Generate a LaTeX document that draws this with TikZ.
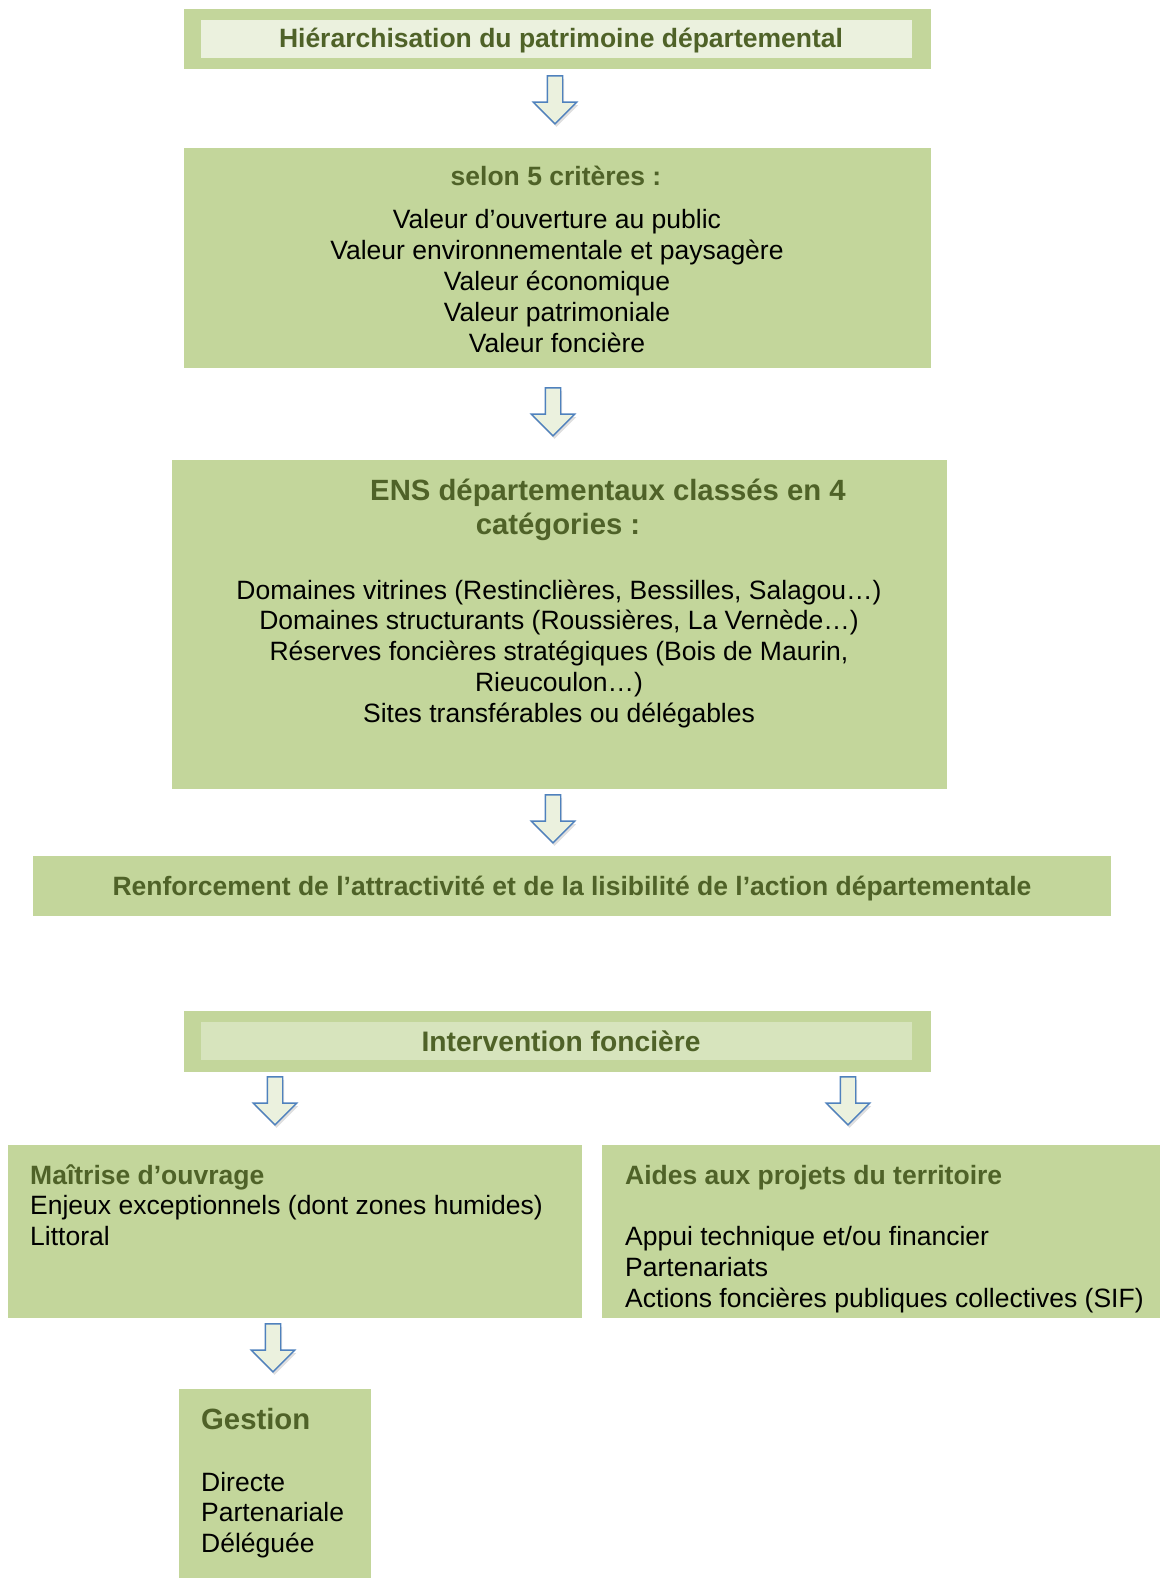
\documentclass[tikz,border=0pt]{standalone}
\usepackage{fontspec}
\setmainfont{Liberation Sans}
\usetikzlibrary{shapes.arrows,shadows}
\definecolor{boxgreen}{HTML}{C3D69B}
\definecolor{titlegreen}{HTML}{4F6228}
\definecolor{palegreen}{HTML}{EBF1DE}
\definecolor{midgreen}{HTML}{D7E4BD}
\definecolor{arrowblue}{HTML}{4F81BD}
\tikzset{
  box/.style={fill=boxgreen, draw=none, inner sep=0pt, outer sep=0pt, anchor=north west},
  innerbox/.style={draw=none, inner sep=0pt, outer sep=0pt, anchor=north west},
  ttl/.style={font=\fontsize{26.5}{31}\selectfont\bfseries, text=titlegreen, inner sep=0pt, anchor=base},
  bigttl/.style={font=\fontsize{29.3}{34}\selectfont\bfseries, text=titlegreen, inner sep=0pt, anchor=base},
  body/.style={font=\fontsize{26.5}{31}\selectfont, text=black, inner sep=0pt, anchor=base},
  downarrow/.style={single arrow, shape border rotate=270, draw=arrowblue, line width=1.4pt,
    fill=palegreen, inner sep=7pt, single arrow head extend=14pt, minimum height=48pt,
    single arrow tip angle=90, drop shadow={opacity=0.25, shadow xshift=1.5pt, shadow yshift=-3pt}}
}
\begin{document}
\begin{tikzpicture}[x=1pt,y=-1pt]
\useasboundingbox (0,0) rectangle (1160,1578);
% Box 1
\node[box, minimum width=747pt, minimum height=60pt] (b1) at (184,9) {};
\node[innerbox, fill=palegreen, minimum width=711pt, minimum height=38pt] (b1i) at (201,20) {};
\node[ttl] (t1) at (561,48) {Hiérarchisation du patrimoine départemental};
\node[downarrow] (a1) at (555,96) {};
% Box 2
\node[box, minimum width=747pt, minimum height=220pt] (b2) at (184,148) {};
\node[ttl] (t2) at (556,186) {selon 5 critères :};
\foreach \t [count=\i] in {Valeur d’ouverture au public, Valeur environnementale et paysagère, Valeur économique, Valeur patrimoniale, Valeur foncière}
  \node[body] (l2-\i) at (557, {229+30.8*(\i-1)}) {\t};
\node[downarrow] (a2) at (553,408) {};
% Box 3
\node[box, minimum width=775pt, minimum height=329pt] (b3) at (172,460) {};
\node[bigttl] (t3a) at (608,500) {ENS départementaux classés en 4};
\node[bigttl] (t3b) at (558,534) {catégories :};
\foreach \t [count=\i] in {{Domaines vitrines (Restinclières, Bessilles, Salagou…)}, {Domaines structurants (Roussières, La Vernède…)}, {Réserves foncières stratégiques (Bois de Maurin,}, {Rieucoulon…)}, {Sites transférables ou délégables}}
  \node[body] (l3-\i) at (559, {599+30.8*(\i-1)}) {\t};
\node[downarrow] (a3) at (553,815) {};
% Box 4
\node[box, minimum width=1078pt, minimum height=60pt] (b4) at (33,856) {};
\node[ttl] (t4) at (572,895) {Renforcement de l’attractivité et de la lisibilité de l’action départementale};
% Box 5
\node[box, minimum width=747pt, minimum height=61pt] (b5) at (184,1011) {};
\node[innerbox, fill=midgreen, minimum width=711pt, minimum height=38pt] (b5i) at (201,1022) {};
\node[ttl, font=\fontsize{28.2}{33}\selectfont\bfseries] (t5) at (561,1051) {Intervention foncière};
\node[downarrow] (a5l) at (275,1097) {};
\node[downarrow] (a5r) at (848,1097) {};
% Box 6
\node[box, minimum width=574pt, minimum height=173pt] (b6) at (8,1145) {};
\node[ttl, anchor=base west] (t6) at (30,1184) {Maîtrise d’ouvrage};
\node[body, anchor=base west] (l6-1) at (30,1214) {Enjeux exceptionnels (dont zones humides)};
\node[body, anchor=base west] (l6-2) at (30,1245) {Littoral};
% Box 7
\node[box, minimum width=558pt, minimum height=173pt] (b7) at (602,1145) {};
\node[ttl, anchor=base west] (t7) at (625,1184) {Aides aux projets du territoire};
\node[body, anchor=base west] (l7-1) at (625,1245) {Appui technique et/ou financier};
\node[body, anchor=base west] (l7-2) at (625,1276) {Partenariats};
\node[body, anchor=base west] (l7-3) at (625,1307) {Actions foncières publiques collectives (SIF)};
\node[downarrow] (a6) at (273,1344) {};
% Box 8
\node[box, minimum width=192pt, minimum height=189pt] (b8) at (179,1389) {};
\node[bigttl, anchor=base west] (t8) at (201,1429) {Gestion};
\node[body, anchor=base west] (l8-1) at (201,1491) {Directe};
\node[body, anchor=base west] (l8-2) at (201,1521) {Partenariale};
\node[body, anchor=base west] (l8-3) at (201,1552) {Déléguée};
\end{tikzpicture}
\end{document}
